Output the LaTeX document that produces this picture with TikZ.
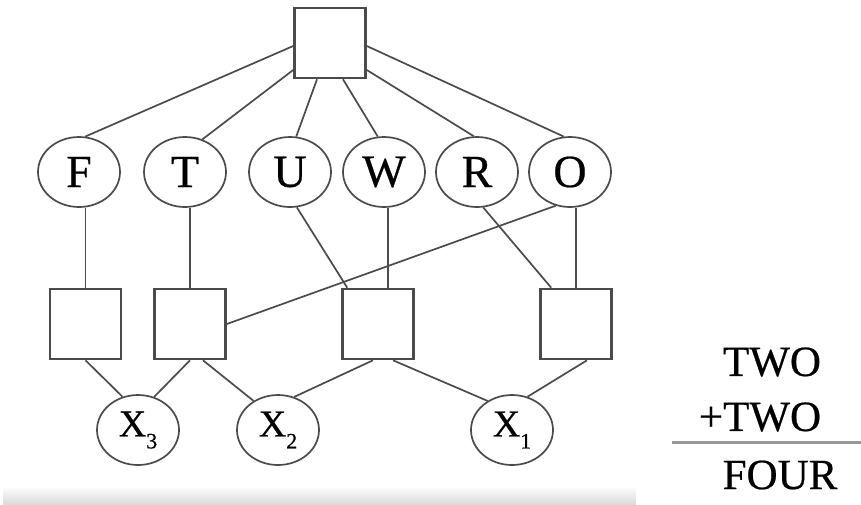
\documentclass[tikz,border=0pt]{standalone}
\usepackage{fontspec}
\setmainfont{Liberation Serif}[FakeBold=0.5]
\newfontfamily\thickserif{Liberation Serif}[FakeBold=0.5]
\usetikzlibrary{shapes.geometric,calc}
\definecolor{ln}{RGB}{75,75,75}
\newcommand{\lowsub}[1]{\raisebox{-12pt}{\fontsize{22}{22}\selectfont #1}}
\tikzset{
  var/.style={draw=ln, line width=1.7pt, ellipse, minimum width=82pt, minimum height=70pt, inner sep=0pt, font=\thickserif\fontsize{46}{50}\selectfont},
  xvar/.style={draw=ln, line width=1.7pt, ellipse, minimum width=82pt, minimum height=70pt, inner sep=0pt, font=\thickserif\fontsize{38}{42}\selectfont},
  cons/.style={draw=ln, line width=2.6pt, rectangle, minimum width=71pt, minimum height=70pt, inner sep=0pt},
  edge/.style={draw=ln, line width=1.7pt},
  sumtxt/.style={inner sep=0pt, font=\thickserif\fontsize{43}{46}\selectfont}
}
\begin{document}
\begin{tikzpicture}[x=1pt,y=-1pt]
\useasboundingbox (0,0) rectangle (861,504);
\shade[top color=white, bottom color=gray!28] (3,486) rectangle (636,504);
% nodes
\node[cons] (top) at (330,43) {};
\node[var] (F) at (79,172) {F};
\node[var] (T) at (185,172) {T};
\node[var] (U) at (290,172) {U};
\node[var] (W) at (384,172) {W};
\node[var] (R) at (477,172) {R};
\node[var] (O) at (570,172) {O};
\node[cons] (b1) at (85.5,324) {};
\node[cons] (b2) at (190,324) {};
\node[cons] (b3) at (378,324) {};
\node[cons] (b4) at (576,324) {};
\node[xvar] (X3) at (138,430) {X\lowsub{3}};
\node[xvar] (X2) at (278,430) {X\lowsub{2}};
\node[xvar] (X1) at (512,430) {X\lowsub{1}};
% top connectors
\draw[edge] ([yshift=-3pt]top.west) -- (F.80);
\draw[edge] ([yshift=-27pt]top.west) -- (T.62);
\draw[edge] ([xshift=-13pt]top.south) -- (U.80);
\draw[edge] ([xshift=13pt]top.south) -- (W.100);
\draw[edge] ([yshift=-27pt]top.east) -- (R.95);
\draw[edge] ([yshift=-3pt]top.east) -- (O.100);
% middle connectors
\draw[edge] (b1.north) -- (b1.north |- F.south);
\draw[edge] (b2.north) -- (b2.north |- T.south);
\draw[edge] (U.281) -- ([xshift=6pt]b3.north west);
\draw[edge] ([xshift=10pt]b3.north) -- ([xshift=10pt]b3.north |- W.south);
\draw[edge] (O.247) -- (b2.east);
\draw[edge] (R.280) -- ([xshift=12pt]b4.north west);
\draw[edge] (b4.north) -- (b4.north |- O.south);
% bottom connectors
\draw[edge] (b1.south) -- (X3.115);
\draw[edge] (b2.south) -- (X3.64);
\draw[edge] ([xshift=13pt]b2.south) -- (X2.130);
\draw[edge] ([xshift=-5pt]b3.south) -- (X2.64);
\draw[edge] ([xshift=15pt]b3.south) -- (X1.130);
\draw[edge] ([xshift=11pt]b4.south) -- (X1.65);
% sum
\node[sumtxt] (s1) at (772,362) {TWO};
\node[sumtxt] (s2) at (760,417) {+TWO};
\node[sumtxt] (s3) at (780,475) {FOUR};
\coordinate (rl) at (672,442);
\coordinate (rr) at (861,442);
\draw[draw=gray!80, line width=3pt] (rl) -- (rr);
\end{tikzpicture}
\end{document}
